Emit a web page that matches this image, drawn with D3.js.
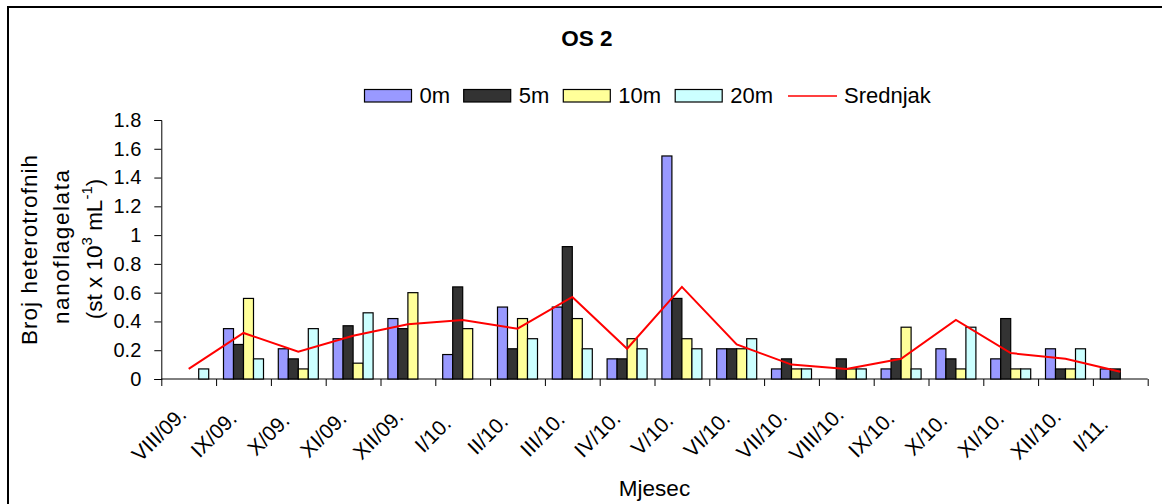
<!DOCTYPE html>
<html>
<head>
<meta charset="utf-8">
<script src="https://cdn.jsdelivr.net/npm/d3@7"></script>
<style>
  html, body { margin: 0; padding: 0; background: #fff; }
  svg { display: block; font-family: "Liberation Sans", Arial, sans-serif; }
</style>
</head>
<body>
<svg id="chart" width="1162" height="504"></svg>
<script>
// ---- data ----
const categories = ["VIII/09.","IX/09.","X/09.","XI/09.","XII/09.","I/10.","II/10.","III/10.","IV/10.","V/10.","VI/10.","VII/10.","VIII/10.","IX/10.","X/10.","XI/10.","XII/10.","I/11."];
const seriesNames = ["0m","5m","10m","20m"];
const values0m  = [null,0.35,0.21,0.28,0.42,0.17,0.50,0.50,0.14,1.55,0.21,0.07,null,0.07,0.21,0.14,0.21,0.07];
const values5m  = [null,0.24,0.14,0.37,0.35,0.64,0.21,0.92,0.14,0.56,0.21,0.14,0.14,0.14,0.14,0.42,0.07,0.07];
const values10m = [null,0.56,0.07,0.11,0.60,0.35,0.42,0.42,0.28,0.28,0.21,0.07,0.07,0.36,0.07,0.07,0.07,null];
const values20m = [0.07,0.14,0.35,0.46,null,null,0.28,0.21,0.21,0.21,0.28,0.07,0.07,0.07,0.36,0.07,0.21,null];
const meanName = "Srednjak";
const meanValues = [0.07,0.32,0.19,0.30,0.38,0.41,0.35,0.57,0.21,0.64,0.24,0.10,0.07,0.14,0.41,0.18,0.14,0.05];
const yTickValues = [0,0.2,0.4,0.6,0.8,1,1.2,1.4,1.6,1.8];
const yTickLabels = ["0","0.2","0.4","0.6","0.8","1","1.2","1.4","1.6","1.8"];
const titleText = "OS 2";
const xTitle = "Mjesec";
const yTitleLines = ["Broj heterotrofnih", "nanoflagelata"];

// ---- styles ----
const colors = ["#9999FF","#333333","#FFFF99","#CCFFFF"];
const lineColor = "#FF0000";
const seriesValues = [values0m, values5m, values10m, values20m];

const svg = d3.select("#chart");
const plotL = 161.3, plotR = 1147.7, plotT = 120, plotB = 379;

// outer border
svg.append("rect").attr("x", 8).attr("y", 7).attr("width", 1200).attr("height", 600)
  .attr("fill", "none").attr("stroke", "#000").attr("stroke-width", 2);

// scales
const x0 = d3.scaleBand().domain(categories).range([plotL, plotR]).paddingInner(0.27).paddingOuter(0.135);
const x1 = d3.scaleBand().domain(seriesNames).range([0, x0.bandwidth()]);
const y = d3.scaleLinear().domain([0, 1.8]).range([plotB, plotT]);
const xb = d3.scaleLinear().domain([0, categories.length]).range([plotL, plotR]);

// title
svg.append("text").attr("x", 587).attr("y", 46).attr("text-anchor", "middle")
  .attr("font-size", 22.5).attr("font-weight", "bold").text(titleText);

// y axis
const yAxis = svg.append("g").attr("transform", `translate(${plotL},0)`)
  .call(d3.axisLeft(y).tickValues(yTickValues).tickSize(7).tickPadding(13)
    .tickFormat((d, i) => yTickLabels[i]));
yAxis.select(".domain").attr("stroke", "#000");
yAxis.selectAll(".tick line").attr("stroke", "#000");
yAxis.selectAll("text").attr("font-size", 20).attr("fill", "#000")
  .attr("font-family", "Liberation Sans, Arial, sans-serif");

// x axis (ticks at category boundaries)
const xAxis = svg.append("g").attr("transform", `translate(0,${plotB})`)
  .call(d3.axisBottom(xb).tickValues(d3.range(categories.length + 1)).tickSize(7).tickFormat(""));
xAxis.select(".domain").attr("stroke", "#000").attr("d", `M${plotL},0H${plotR}`);
xAxis.selectAll(".tick line").attr("stroke", "#000");

// category labels
svg.append("g").selectAll("text").data(categories).join("text")
  .attr("transform", d => `translate(${x0(d) + x0.bandwidth() / 2 - 30},434) rotate(-45)`)
  .attr("text-anchor", "middle").attr("dominant-baseline", "central")
  .attr("font-size", 21).text(d => d);

// bars
const barData = [];
categories.forEach((c, ci) => {
  seriesNames.forEach((s, si) => {
    const v = seriesValues[si][ci];
    if (v != null) barData.push({ c, s, si, v });
  });
});
svg.append("g").selectAll("rect").data(barData).join("rect")
  .attr("x", d => x0(d.c) + x1(d.s))
  .attr("y", d => y(d.v))
  .attr("width", x1.bandwidth())
  .attr("height", d => y(0) - y(d.v))
  .attr("fill", d => colors[d.si])
  .attr("stroke", "#000").attr("stroke-width", 1.2);

// mean line
const line = d3.line().x((d, i) => x0(categories[i]) + x0.bandwidth() / 2).y(d => y(d));
svg.append("path").datum(meanValues).attr("d", line)
  .attr("fill", "none").attr("stroke", lineColor).attr("stroke-width", 2);

// legend
const legend = svg.append("g");
const legendX = [364.5, 463.7, 563.3, 675.2];
seriesNames.forEach((s, i) => {
  legend.append("rect").attr("x", legendX[i]).attr("y", 89.5).attr("width", 47).attr("height", 12.5)
    .attr("fill", colors[i]).attr("stroke", "#000").attr("stroke-width", 1.2);
  legend.append("text").attr("x", legendX[i] + 55).attr("y", 103).attr("font-size", 22).text(s);
});
legend.append("line").attr("x1", 788).attr("x2", 837).attr("y1", 96).attr("y2", 96)
  .attr("stroke", lineColor).attr("stroke-width", 1.5);
legend.append("text").attr("x", 844).attr("y", 103).attr("font-size", 22).text(meanName);

// y axis title (3 lines)
const yt = svg.append("g");
yt.append("text").attr("transform", "translate(37,250) rotate(-90)").attr("text-anchor", "middle")
  .attr("font-size", 22.5).attr("textLength", 190).attr("lengthAdjust", "spacing").text(yTitleLines[0]);
yt.append("text").attr("transform", "translate(69,247) rotate(-90)").attr("text-anchor", "middle")
  .attr("font-size", 22.5).attr("textLength", 154).attr("lengthAdjust", "spacing").text(yTitleLines[1]);
const t3 = yt.append("text").attr("transform", "translate(102,249) rotate(-90)").attr("text-anchor", "middle")
  .attr("font-size", 22.5);
t3.append("tspan").text("(st x 10");
t3.append("tspan").attr("dy", -10).attr("font-size", 15).text("3");
t3.append("tspan").attr("dy", 10).text(" mL");
t3.append("tspan").attr("dy", -10).attr("font-size", 15).text("-1");
t3.append("tspan").attr("dy", 10).text(")");

// x axis title
svg.append("text").attr("x", (plotL + plotR) / 2).attr("y", 496).attr("text-anchor", "middle")
  .attr("font-size", 22.5).text(xTitle);
</script>
</body>
</html>
